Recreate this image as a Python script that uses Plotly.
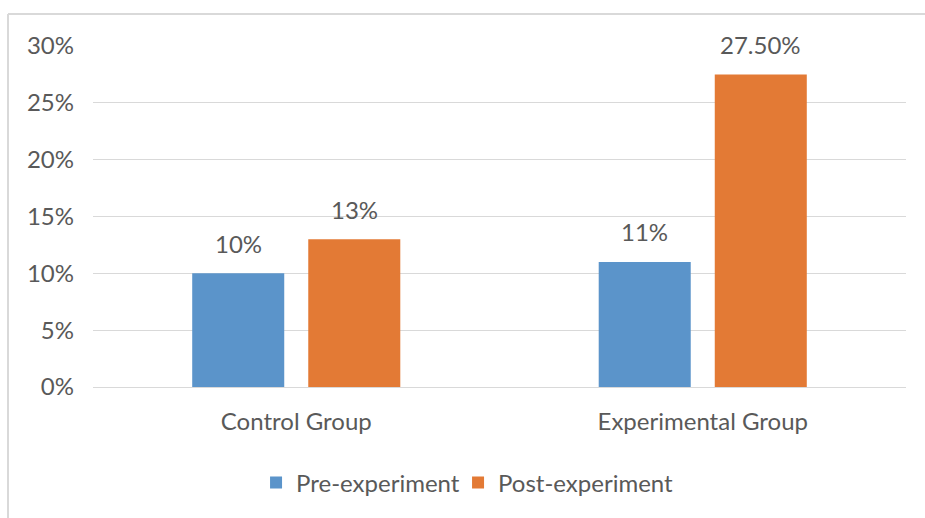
import plotly.graph_objects as go

categories = ["Control Group", "Experimental Group"]
pre_values = [10, 11]
post_values = [13, 27.5]
pre_labels = ["10%", "11%"]
post_labels = ["13%", "27.50%"]
series_names = ["Pre-experiment", "Post-experiment"]
tick_vals = [0, 5, 10, 15, 20, 25, 30]
tick_text = ["0%", "5%", "10%", "15%", "20%", "25%", "30%"]

FONT = "Lato, Calibri, Carlito, sans-serif"
TXT = "#595959"
FS = 24

fig = go.Figure()
fig.add_trace(go.Bar(x=categories, y=pre_values, name=series_names[0],
                     legendwidth=157,
                     marker=dict(color="#5B94CA", line=dict(width=0))))
fig.add_trace(go.Bar(x=categories, y=post_values, name=series_names[1],
                     marker=dict(color="#E37A35", line=dict(width=0))))

# data labels above bars
for vals, labs, shift in ((pre_values, pre_labels, -58), (post_values, post_labels, 58)):
    for c, v, s in zip(categories, vals, labs):
        fig.add_annotation(x=c, y=v, text=s, showarrow=False, xref="x", yref="y",
                           xshift=shift, yshift=30, yanchor="middle",
                           font=dict(size=FS, color=TXT, family=FONT))

W, H = 925, 518
l, r, t, b = 93, 19, 46, 131
pw = W - l - r
ph = H - t - b

fig.update_layout(
    width=W, height=H,
    margin=dict(l=l, r=r, t=t, b=b, autoexpand=False),
    paper_bgcolor="white", plot_bgcolor="white",
    barmode="group", bargap=0.429, bargroupgap=0.207,
    font=dict(family=FONT, size=FS, color=TXT),
    showlegend=True,
    legend=dict(orientation="h", x=0.4607, xanchor="center", y=-0.2815, yanchor="middle",
                font=dict(size=FS, color=TXT, family=FONT), itemwidth=30,
                traceorder="normal"),
    yaxis=dict(range=[0, 30], tickvals=tick_vals, ticktext=tick_text,
               showgrid=True, gridcolor="#d9d9d9", gridwidth=1, zeroline=False,
               showline=False, ticks="", ticklabelstandoff=18,
               tickfont=dict(size=FS, color=TXT, family=FONT)),
    xaxis=dict(showline=True, linecolor="#d9d9d9", linewidth=1, ticks="",
               showgrid=False, ticklabelstandoff=13,
               tickfont=dict(size=FS, color=TXT, family=FONT)),
)

# outer chart border (left and top edges visible in the reference)
x0 = (8 - l) / pw
y1 = 1 + (t - 14) / ph
fig.add_shape(type="line", xref="paper", yref="paper", x0=x0, x1=x0, y0=-2, y1=y1,
              line=dict(color="#d9d9d9", width=2))
fig.add_shape(type="line", xref="paper", yref="paper", x0=x0, x1=2, y0=y1, y1=y1,
              line=dict(color="#d9d9d9", width=2))

fig.write_html("out.html", config={"displayModeBar": False},
               post_script="document.body.style.margin='0';")
